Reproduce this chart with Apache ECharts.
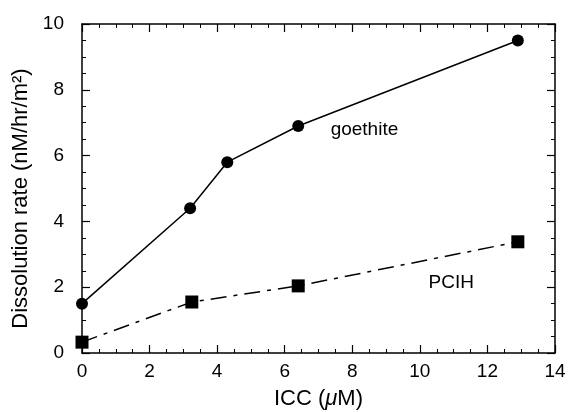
<!DOCTYPE html>
<html><head><meta charset="utf-8">
<script src="https://cdn.jsdelivr.net/npm/echarts@6/dist/echarts.min.js"></script>
<style>html,body{margin:0;padding:0;background:#fff}#c{width:568px;height:412px}</style>
</head><body><div id="c"></div>
<script>
const goethiteX = [0, 3.2, 4.3, 6.4, 12.9];
const goethiteY = [1.5, 4.4, 5.8, 6.9, 9.5];
const pcihX = [0, 3.25, 6.4, 12.9];
const pcihY = [0.33, 1.55, 2.04, 3.38];
const xTicks = [0, 2, 4, 6, 8, 10, 12, 14];
const yTicks = [0, 2, 4, 6, 8, 10];
const labels = [{text: 'goethite', x: 8.36, y: 6.78}, {text: 'PCIH', x: 10.93, y: 2.13}];

const font = 'Liberation Sans, Arial, Helvetica, sans-serif';
const axisCommon = {
  axisLine: {show: true, onZero: false, lineStyle: {color: '#000', width: 1.5}},
  axisTick: {show: true, inside: true, length: 8, lineStyle: {color: '#000', width: 1.2}},
  minorTick: {show: true, splitNumber: 4, length: 4, lineStyle: {color: '#000', width: 1}},
  splitLine: {show: false}
};
const chart = echarts.init(document.getElementById('c'));
chart.setOption({
  animation: false,
  grid: {left: 82, right: 13, top: 24, bottom: 59, containLabel: false, outerBoundsMode: 'none'},
  xAxis: [
    Object.assign({type: 'value', min: xTicks[0], max: xTicks[xTicks.length-1], interval: 2, position: 'bottom',
      axisLabel: {color: '#000', fontSize: 19, fontFamily: font, margin: 9},
      name: '{a|ICC (}{b|μ}{a|M)}', nameLocation: 'middle', nameGap: 35,
      nameTextStyle: {rich: {a: {fontSize: 22, fontFamily: font, color: '#000'}, b: {fontSize: 22, fontFamily: font, color: '#000', fontStyle: 'italic'}}}
    }, axisCommon),
    Object.assign({type: 'value', min: xTicks[0], max: xTicks[xTicks.length-1], interval: 2, position: 'top',
      axisLabel: {show: false}}, axisCommon)
  ],
  yAxis: [
    Object.assign({type: 'value', min: yTicks[0], max: yTicks[yTicks.length-1], interval: 2, position: 'left',
      axisLabel: {color: '#000', fontSize: 19, fontFamily: font, margin: 18},
      name: 'Dissolution rate (nM/hr/m²)', nameLocation: 'middle', nameGap: 45,
      nameTextStyle: {fontSize: 22, fontFamily: font, color: '#000', padding: [0, 20, 0, 0]}
    }, axisCommon),
    Object.assign({type: 'value', min: yTicks[0], max: yTicks[yTicks.length-1], interval: 2, position: 'right',
      axisLabel: {show: false}}, axisCommon)
  ],
  series: [
    {type: 'line', data: goethiteX.map((x, i) => [x, goethiteY[i]]), symbol: 'circle', symbolSize: 12,
      itemStyle: {color: '#000'}, lineStyle: {color: '#000', width: 1.5}},
    {type: 'line', data: pcihX.map((x, i) => [x, pcihY[i]]), symbol: 'rect', symbolSize: 13,
      itemStyle: {color: '#000'}, lineStyle: {color: '#000', width: 1.5, type: [16, 7, 4, 7]}},
    {type: 'scatter', data: labels.map(l => ({value: [l.x, l.y], name: l.text})), symbolSize: 0,
      itemStyle: {opacity: 1, color: '#000'},
      label: {show: true, position: 'inside', formatter: p => p.name, color: '#000', opacity: 1, fontSize: 19, fontFamily: font}}
  ]
});
</script></body></html>
